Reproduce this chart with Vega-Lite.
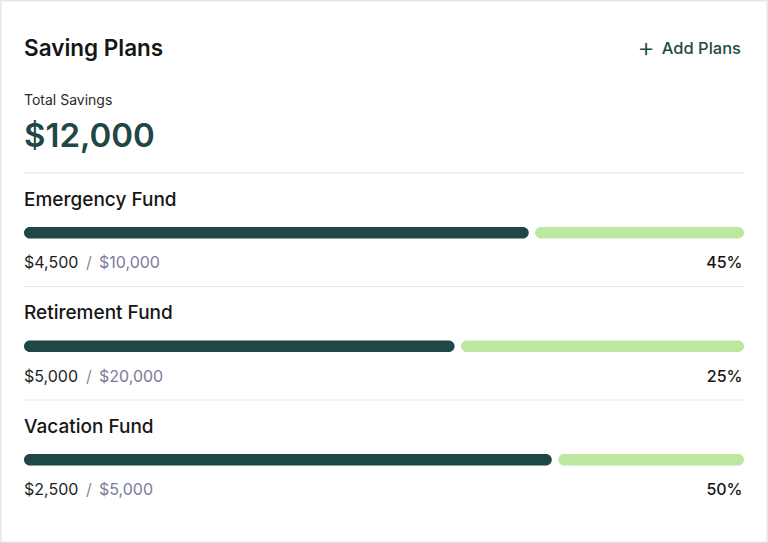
{
  "$schema": "https://vega.github.io/schema/vega-lite/v6.json",
  "width": 768,
  "height": 543,
  "padding": 0,
  "autosize": {"type": "fit", "contains": "padding"},
  "background": "#ffffff",
  "config": {
    "view": {"stroke": "#e6e6e6", "strokeWidth": 3},
    "axis": {"disable": true},
    "text": {"font": "Inter", "baseline": "alphabetic"}
  },
  "datasets": {
    "header": [
      {"section": "header", "title": "Saving Plans", "action": "Add Plans", "label": "Total Savings", "total": "$12,000"}
    ],
    "plans": [
      {"section": "Emergency Fund", "saved": "$4,500", "goal": "$10,000", "pct": "45%", "fill": 70.1},
      {"section": "Retirement Fund", "saved": "$5,000", "goal": "$20,000", "pct": "25%", "fill": 59.8},
      {"section": "Vacation Fund", "saved": "$2,500", "goal": "$5,000", "pct": "50%", "fill": 73.3}
    ],
    "separators": [
      {"section": "header"},
      {"section": "Emergency Fund"},
      {"section": "Retirement Fund"}
    ]
  },
  "layer": [
    {
      "data": {"name": "separators"},
      "mark": {"type": "rule", "color": "#e6e6e6", "strokeWidth": 1.2},
      "encoding": {
        "x": {"datum": 0, "type": "quantitative", "scale": {"domain": [-3.3333, 103.3333], "nice": false, "zero": false}},
        "x2": {"datum": 100},
        "y": {"field": "section", "type": "nominal", "bandPosition": 1, "scale": {"domain": ["header", "Emergency Fund", "Retirement Fund", "Vacation Fund"], "paddingInner": 0, "paddingOuter": 0.392, "align": 0.6685}}
      }
    },
    {
      "data": {"name": "plans"},
      "mark": {"type": "bar", "color": "#bde8a0", "height": 11.5, "cornerRadius": 5.75, "xOffset": 6.5, "yOffset": 2.9},
      "encoding": {
        "x": {"field": "fill", "type": "quantitative", "scale": {"domain": [-3.3333, 103.3333], "nice": false, "zero": false}},
        "x2": {"datum": 100},
        "y": {"field": "section", "type": "nominal"}
      }
    },
    {
      "data": {"name": "plans"},
      "mark": {"type": "bar", "color": "#1f4745", "height": 11.5, "cornerRadius": 5.75, "yOffset": 2.9},
      "encoding": {
        "x": {"field": "fill", "type": "quantitative", "scale": {"domain": [-3.3333, 103.3333], "nice": false, "zero": false}},
        "x2": {"datum": 0},
        "y": {"field": "section", "type": "nominal"}
      }
    },
    {
      "data": {"name": "plans"},
      "mark": {"type": "text", "align": "left", "fontSize": 19, "fontWeight": 500, "color": "#161616", "dy": 33},
      "encoding": {
        "x": {"datum": 0, "type": "quantitative", "scale": {"domain": [-3.3333, 103.3333], "nice": false, "zero": false}},
        "y": {"field": "section", "type": "nominal", "bandPosition": 0},
        "text": {"field": "section"}
      }
    },
    {
      "data": {"name": "plans"},
      "mark": {"type": "text", "align": "left", "fontSize": 16, "fontWeight": 400, "color": "#1e1e1e", "dy": 95.5},
      "encoding": {
        "x": {"datum": 0, "type": "quantitative", "scale": {"domain": [-3.3333, 103.3333], "nice": false, "zero": false}},
        "y": {"field": "section", "type": "nominal", "bandPosition": 0},
        "text": {"field": "saved"}
      }
    },
    {
      "data": {"name": "plans"},
      "mark": {"type": "text", "align": "left", "fontSize": 16, "fontWeight": 400, "color": "#8a8aa6", "dx": 62, "dy": 95.5, "text": "/"},
      "encoding": {
        "x": {"datum": 0, "type": "quantitative", "scale": {"domain": [-3.3333, 103.3333], "nice": false, "zero": false}},
        "y": {"field": "section", "type": "nominal", "bandPosition": 0}
      }
    },
    {
      "data": {"name": "plans"},
      "mark": {"type": "text", "align": "left", "fontSize": 16, "fontWeight": 400, "color": "#7a7a9c", "dx": 75, "dy": 95.5},
      "encoding": {
        "x": {"datum": 0, "type": "quantitative", "scale": {"domain": [-3.3333, 103.3333], "nice": false, "zero": false}},
        "y": {"field": "section", "type": "nominal", "bandPosition": 0},
        "text": {"field": "goal"}
      }
    },
    {
      "data": {"name": "plans"},
      "mark": {"type": "text", "align": "right", "fontSize": 16, "fontWeight": 500, "color": "#161616", "dx": -1.5, "dy": 95.5},
      "encoding": {
        "x": {"datum": 100, "type": "quantitative", "scale": {"domain": [-3.3333, 103.3333], "nice": false, "zero": false}},
        "y": {"field": "section", "type": "nominal", "bandPosition": 0},
        "text": {"field": "pct"}
      }
    },
    {
      "data": {"name": "header"},
      "mark": {"type": "text", "align": "left", "fontSize": 22.5, "fontWeight": 600, "color": "#161616", "dy": -3.5},
      "encoding": {
        "x": {"datum": 0, "type": "quantitative", "scale": {"domain": [-3.3333, 103.3333], "nice": false, "zero": false}},
        "y": {"field": "section", "type": "nominal", "bandPosition": 0},
        "text": {"field": "title"}
      }
    },
    {
      "data": {"name": "header"},
      "mark": {"type": "text", "align": "right", "fontSize": 16.5, "fontWeight": 500, "color": "#1f4a44", "dx": -3, "dy": -5},
      "encoding": {
        "x": {"datum": 100, "type": "quantitative", "scale": {"domain": [-3.3333, 103.3333], "nice": false, "zero": false}},
        "y": {"field": "section", "type": "nominal", "bandPosition": 0},
        "text": {"field": "action"}
      }
    },
    {
      "data": {"name": "header"},
      "mark": {"type": "text", "align": "center", "fontSize": 27, "fontWeight": 300, "color": "#1f4a44", "dx": -98, "dy": -2.5, "text": "+"},
      "encoding": {
        "x": {"datum": 100, "type": "quantitative", "scale": {"domain": [-3.3333, 103.3333], "nice": false, "zero": false}},
        "y": {"field": "section", "type": "nominal", "bandPosition": 0}
      }
    },
    {
      "data": {"name": "header"},
      "mark": {"type": "text", "align": "left", "fontSize": 14, "fontWeight": 400, "color": "#2a2a2a", "dy": 45.8},
      "encoding": {
        "x": {"datum": 0, "type": "quantitative", "scale": {"domain": [-3.3333, 103.3333], "nice": false, "zero": false}},
        "y": {"field": "section", "type": "nominal", "bandPosition": 0},
        "text": {"field": "label"}
      }
    },
    {
      "data": {"name": "header"},
      "mark": {"type": "text", "align": "left", "fontSize": 33, "fontWeight": 600, "color": "#1f4745", "dy": 87.2},
      "encoding": {
        "x": {"datum": 0, "type": "quantitative", "scale": {"domain": [-3.3333, 103.3333], "nice": false, "zero": false}},
        "y": {"field": "section", "type": "nominal", "bandPosition": 0},
        "text": {"field": "total"}
      }
    }
  ]
}
